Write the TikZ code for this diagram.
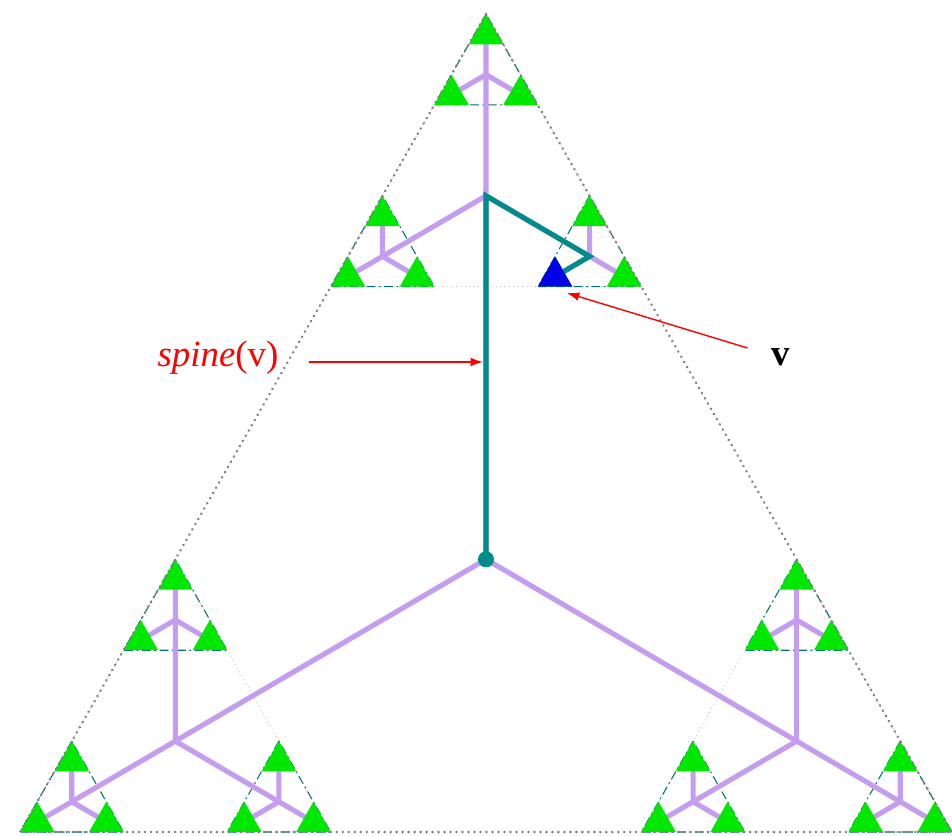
\documentclass[tikz,border=0pt]{standalone}
\usepackage{fontspec}
\setmainfont{Liberation Serif}
\usetikzlibrary{arrows.meta, calc}

\definecolor{treepurple}{RGB}{196,156,240}
\definecolor{spineteal}{RGB}{0,140,140}
\definecolor{leafgreen}{RGB}{0,232,0}
\definecolor{leafblue}{RGB}{0,0,230}

\begin{document}
\begin{tikzpicture}[
    x=0.02cm, y=-0.02cm,
    outer/.style={gray, line width=1.6pt, dash pattern=on 0.01pt off 3.4pt, line cap=round},
    mid/.style={gray!55, line width=0.5pt, dotted},
    inner/.style={spineteal!80!black, line width=0.6pt, dash pattern=on 5pt off 2pt on 1pt off 2pt},
    branch/.style={treepurple, line width=2.9pt},
    spine/.style={spineteal, line width=2.9pt},
    leaf/.style={fill=leafgreen},
    pointer/.style={-{Latex[length=7pt, width=5pt]}, red, line width=0.8pt},
    callout/.style={font=\fontsize{21}{25}\selectfont, inner sep=0pt}
  ]
  \useasboundingbox (0,0) rectangle (952,835);

  % --- corners of the whole triangle ---
  \coordinate (T-1) at (486,14);
  \coordinate (T-2) at (20,832);
  \coordinate (T-3) at (952,832);
  \coordinate (T-c) at ($(T-1)!.5!(T-2)!1/3!(T-3)$);

  % --- corner triangles, a third of the size each time ---
  \foreach \i in {1,2,3} {
    \foreach \j in {1,2,3}
      \coordinate (T\i-\j) at ($(T-\i)!1/3!(T-\j)$);
    \coordinate (T\i-c) at ($(T\i-1)!.5!(T\i-2)!1/3!(T\i-3)$);
  }
  \foreach \i in {1,2,3}
    \foreach \k in {1,2,3} {
      \foreach \j in {1,2,3}
        \coordinate (T\i\k-\j) at ($(T\i-\k)!1/3!(T\i-\j)$);
      \coordinate (T\i\k-c) at ($(T\i\k-1)!.5!(T\i\k-2)!1/3!(T\i\k-3)$);
    }
  \foreach \i in {1,2,3}
    \foreach \k in {1,2,3}
      \foreach \m in {1,2,3} {
        \foreach \j in {1,2,3}
          \coordinate (T\i\k\m-\j) at ($(T\i\k-\m)!1/3!(T\i\k-\j)$);
        \coordinate (T\i\k\m-c) at ($(T\i\k\m-1)!.5!(T\i\k\m-2)!1/3!(T\i\k\m-3)$);
      }

  % --- outlines of level 1 and 2 ---
  \foreach \i in {1,2,3}
    \draw[mid] (T\i-1) -- (T\i-2) -- (T\i-3) -- cycle;
  \foreach \i in {1,2,3}
    \foreach \k in {1,2,3}
      \draw[inner] (T\i\k-1) -- (T\i\k-2) -- (T\i\k-3) -- cycle;

  % --- tree ---
  \foreach \i in {1,2,3} {
    \draw[branch] (T-c) -- (T\i-c);
    \foreach \k in {1,2,3} {
      \draw[branch] (T\i-c) -- (T\i\k-c);
      \foreach \m in {1,2,3}
        \draw[branch] (T\i\k-c) -- (T\i\k\m-c);
    }
  }

  % --- spine of v ---
  \draw[spine] (T-c) -- (T1-c) -- (T13-c) -- (T132-c);
  \fill[spineteal] (T-c) circle[radius=1.6mm];

  % --- leaves ---
  \foreach \i in {1,2,3}
    \foreach \k in {1,2,3}
      \foreach \m in {1,2,3}
        \fill[leaf] (T\i\k\m-1) -- (T\i\k\m-2) -- (T\i\k\m-3) -- cycle;
  \fill[leafblue] (T132-1) -- (T132-2) -- (T132-3) -- cycle;

  % --- whole triangle ---
  \draw[outer] (T-1) -- (T-2) -- (T-3) -- cycle;

  % --- labels ---
  \node[callout, text=red, anchor=base] (spinelabel) at (218,366) {\textit{spine}(v)};
  \node[callout, anchor=base] (vlabel) at (781,365) {\textbf{v}};
  \coordinate (spinehit) at (483,362);
  \coordinate (vhit) at (567,293);
  \draw[pointer] ([shift={(30,-4)}]spinelabel.base east) -- (spinehit);
  \draw[pointer] ([shift={(-24,-17)}]vlabel.base west) -- (vhit);
\end{tikzpicture}
\end{document}
